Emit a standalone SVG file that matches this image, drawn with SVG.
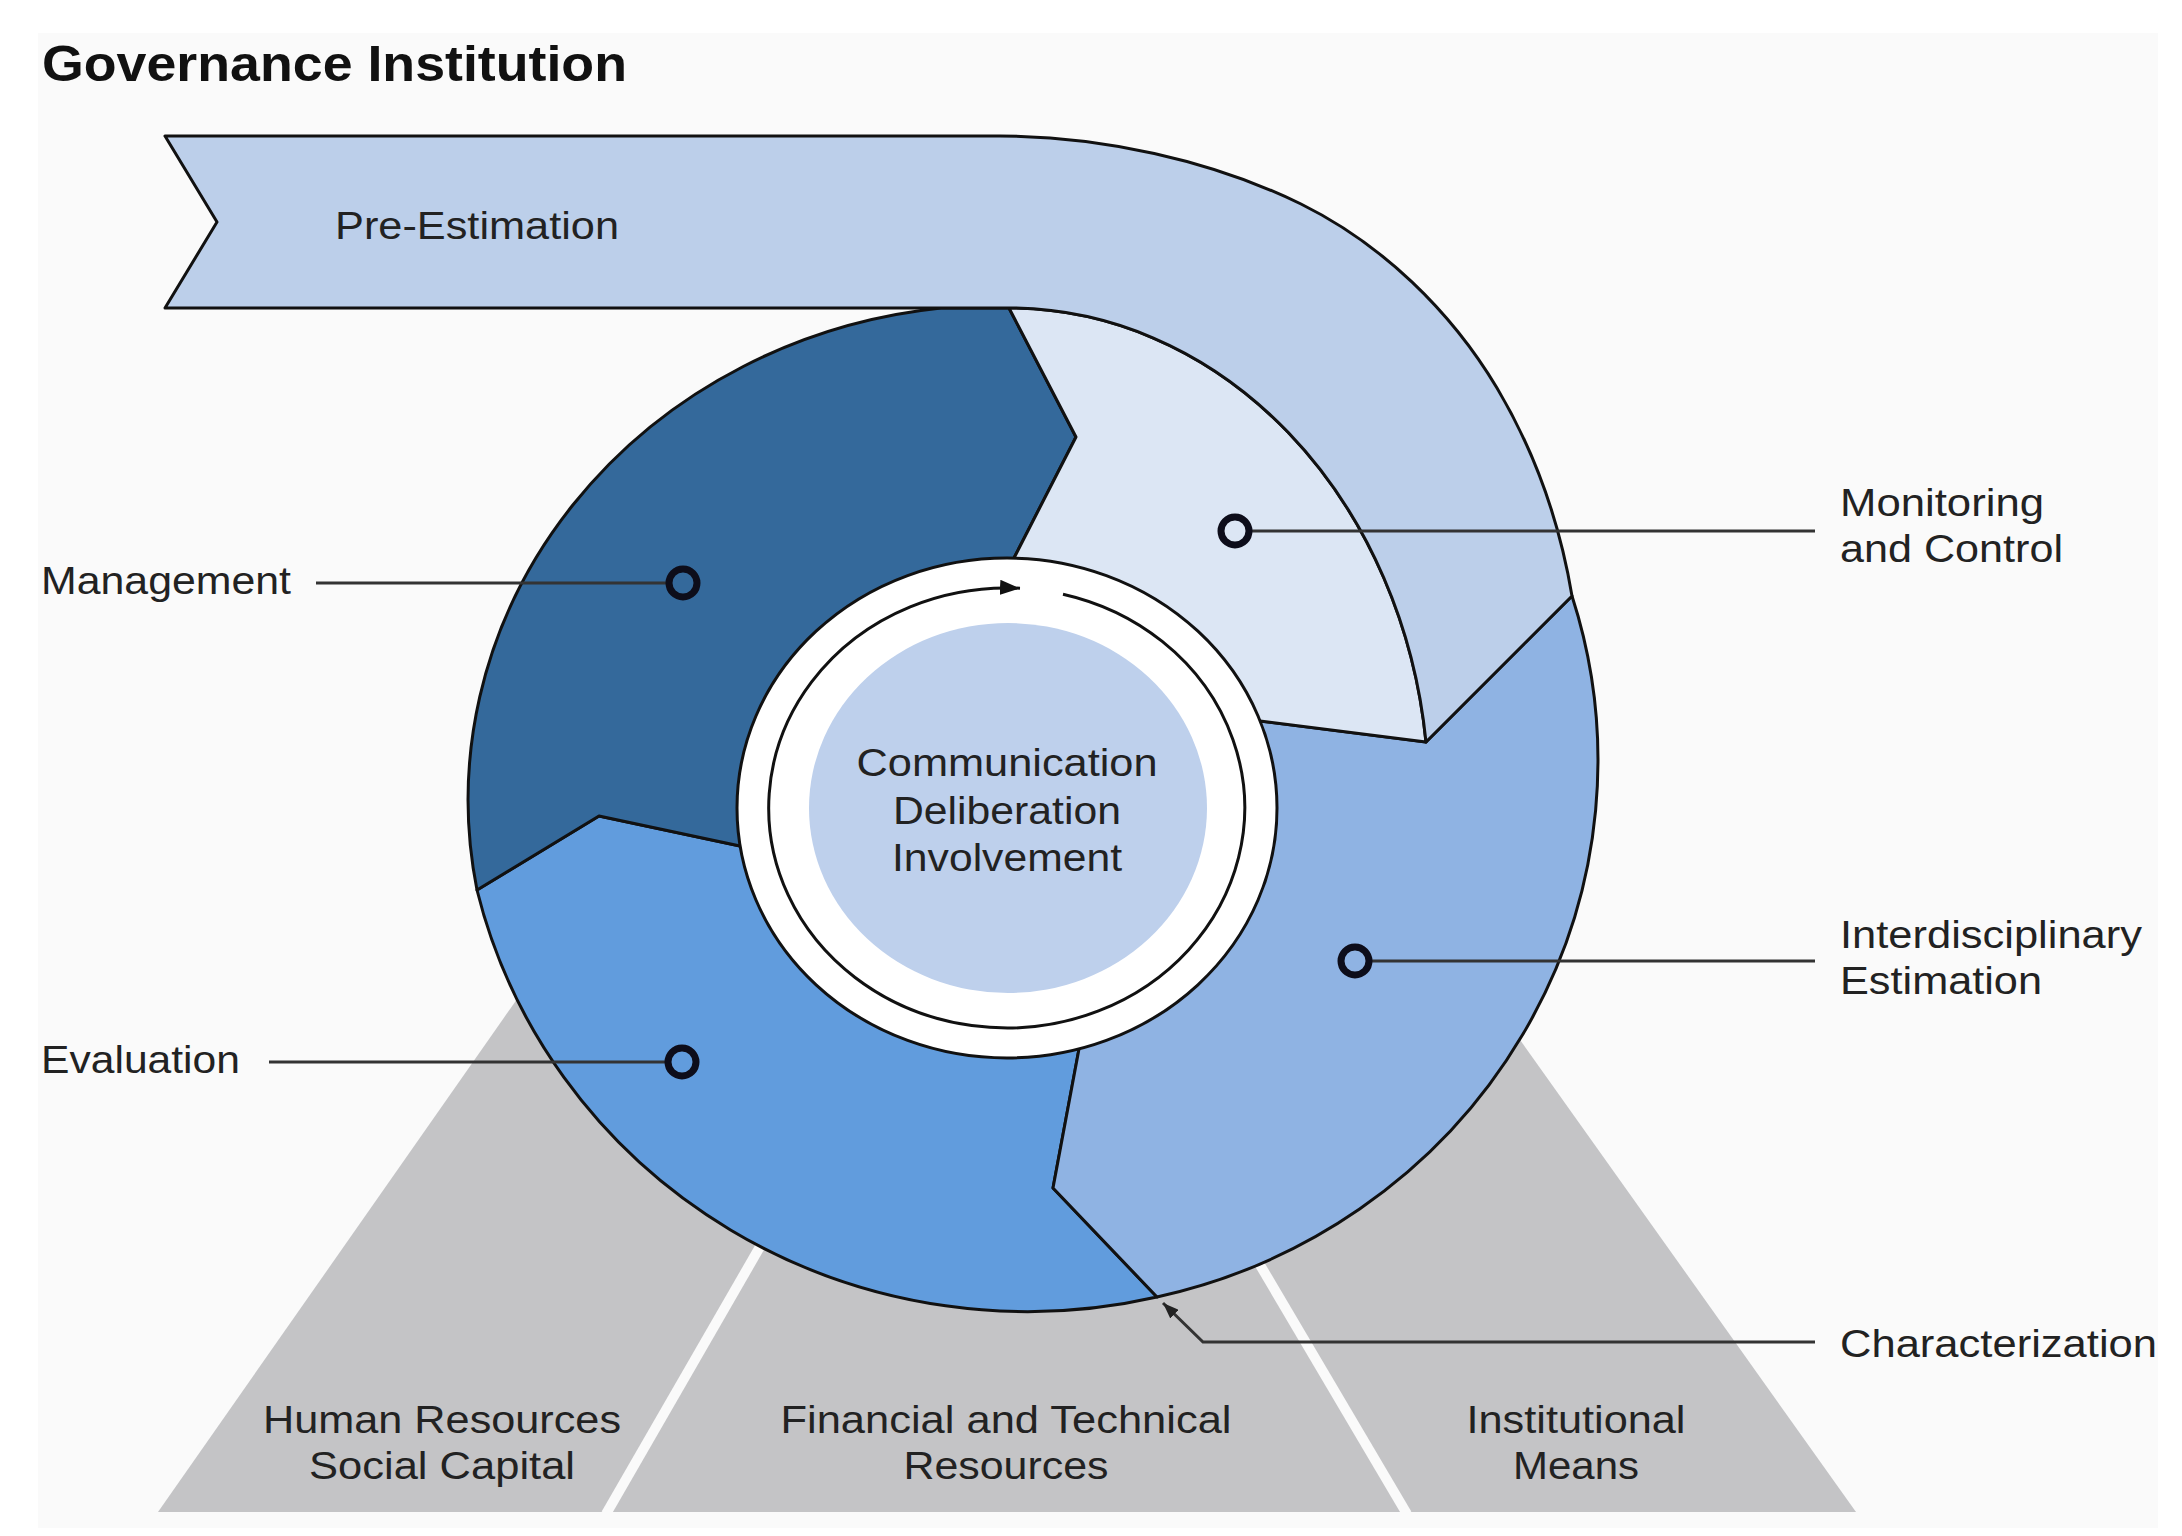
<svg xmlns="http://www.w3.org/2000/svg" width="2182" height="1536" viewBox="0 0 2182 1536">
<style>
.lbl{font-family:"Liberation Sans",Arial,sans-serif;font-size:38px;fill:#222}
.ttl{font-family:"Liberation Sans",Arial,sans-serif;font-size:50px;font-weight:bold;fill:#111}
.mid{text-anchor:middle}
.seg{stroke:#111;stroke-width:3;stroke-linejoin:round}
.lead{stroke:#333;stroke-width:3;fill:none}
.dot{fill:none;stroke:#0d0d1a;stroke-width:7}
.gap{stroke:#fafafa;stroke-width:10;fill:none}
</style>
<defs>
<marker id="ah" viewBox="0 0 20 15" refX="20" refY="7.5" markerWidth="20" markerHeight="15" markerUnits="userSpaceOnUse" orient="auto">
<path d="M0,0 L20,7.5 L0,15 Z" fill="#111"/>
</marker>
<marker id="ahs" viewBox="0 0 16 12" refX="16" refY="6" markerWidth="16" markerHeight="12" markerUnits="userSpaceOnUse" orient="auto">
<path d="M0,0 L16,6 L0,12 Z" fill="#222"/>
</marker>
</defs>
<rect x="0" y="0" width="2182" height="1536" fill="#ffffff"/>
<rect x="38" y="33" width="2120" height="1495" fill="#fafafa"/>

<g id="title">
<text class="ttl" x="42" y="81" textLength="585" lengthAdjust="spacingAndGlyphs">Governance Institution</text>
</g>

<g id="base-resources">
<polygon points="158,1512 1000,309 1856,1512" fill="#c4c4c6"/>
<line class="gap" x1="810" y1="1160" x2="606" y2="1514"/>
<line class="gap" x1="1204" y1="1170" x2="1407" y2="1514"/>
</g>

<g id="segment-evaluation">
<path class="seg" fill="#619cdd" d="M 1157 1297 L 1053 1188 L 1079 1049 L 1007 808 L 740 846 L 599 816 L 477 890 A 566 550 0 0 0 1157 1297 Z"/>
</g>
<g id="segment-interdisciplinary-estimation">
<path class="seg" fill="#8fb3e3" d="M 1572 596 L 1426 742 L 1260 721 L 1007 808 L 1079 1049 L 1053 1188 L 1157 1297 A 566 550 0 0 0 1572 596 Z"/>
</g>
<g id="segment-management">
<path class="seg" fill="#34699b" d="M 1009 308 L 1076 437 L 1014 558 L 1007 808 L 740 846 L 599 816 L 477 890 A 532 495 0 0 1 941 308 Z"/>
</g>
<g id="segment-monitoring-control">
<path class="seg" fill="#dce6f4" d="M 1009 308 L 1076 437 L 1014 558 L 1007 808 L 1260 721 L 1426 742 A 420 491 0 0 0 1009 308 Z"/>
</g>

<g id="banner-pre-estimation">
<path class="seg" fill="#bccfea" d="M 165 136 L 1000 136 C 1100 136 1211 160 1301 204 C 1382 244 1451 311 1497 388 C 1535 452 1560 524 1572 596 L 1426 742 A 420 491 0 0 0 1009 308 L 165 308 L 217 222 Z"/>
<text class="lbl" x="335" y="239" textLength="284" lengthAdjust="spacingAndGlyphs">Pre-Estimation</text>
</g>

<g id="center-hub">
<ellipse cx="1007" cy="808" rx="270" ry="250" fill="#ffffff" stroke="#111" stroke-width="3"/>
<path d="M 1063 594.2 A 238 220 0 1 1 1020 588.3" fill="none" stroke="#111" stroke-width="3" marker-end="url(#ah)"/>
<ellipse cx="1008" cy="808" rx="199" ry="185" fill="#bed0ec"/>
<text class="lbl mid" x="1007" y="776" textLength="301" lengthAdjust="spacingAndGlyphs">Communication</text>
<text class="lbl mid" x="1007" y="824" textLength="228" lengthAdjust="spacingAndGlyphs">Deliberation</text>
<text class="lbl mid" x="1007" y="871" textLength="230" lengthAdjust="spacingAndGlyphs">Involvement</text>
</g>

<g id="resource-labels">
<text class="lbl mid" x="442" y="1433" textLength="358" lengthAdjust="spacingAndGlyphs">Human Resources</text>
<text class="lbl mid" x="442" y="1479" textLength="266" lengthAdjust="spacingAndGlyphs">Social Capital</text>
<text class="lbl mid" x="1006" y="1433" textLength="451" lengthAdjust="spacingAndGlyphs">Financial and Technical</text>
<text class="lbl mid" x="1006" y="1479" textLength="205" lengthAdjust="spacingAndGlyphs">Resources</text>
<text class="lbl mid" x="1576" y="1433" textLength="219" lengthAdjust="spacingAndGlyphs">Institutional</text>
<text class="lbl mid" x="1576" y="1479" textLength="126" lengthAdjust="spacingAndGlyphs">Means</text>
</g>

<g id="label-management">
<text class="lbl" x="41" y="594" textLength="250" lengthAdjust="spacingAndGlyphs">Management</text>
</g>
<g id="label-evaluation">
<text class="lbl" x="41" y="1073" textLength="199" lengthAdjust="spacingAndGlyphs">Evaluation</text>
</g>
<g id="label-monitoring">
<text class="lbl" x="1840" y="516" textLength="204" lengthAdjust="spacingAndGlyphs">Monitoring</text>
<text class="lbl" x="1840" y="562" textLength="223" lengthAdjust="spacingAndGlyphs">and Control</text>
</g>
<g id="label-interdisciplinary">
<text class="lbl" x="1840" y="948" textLength="302" lengthAdjust="spacingAndGlyphs">Interdisciplinary</text>
<text class="lbl" x="1840" y="994" textLength="202" lengthAdjust="spacingAndGlyphs">Estimation</text>
</g>
<g id="label-characterization">
<text class="lbl" x="1840" y="1357" textLength="317" lengthAdjust="spacingAndGlyphs">Characterization</text>
</g>

<g id="connectors">
<line class="lead" x1="316" y1="583" x2="669" y2="583"/>
<circle class="dot" cx="683" cy="583" r="14"/>
<line class="lead" x1="269" y1="1062" x2="668" y2="1062"/>
<circle class="dot" cx="682" cy="1062" r="14"/>
<line class="lead" x1="1249" y1="531" x2="1815" y2="531"/>
<circle class="dot" cx="1235" cy="531" r="14"/>
<line class="lead" x1="1369" y1="961" x2="1815" y2="961"/>
<circle class="dot" cx="1355" cy="961" r="14"/>
<path class="lead" d="M 1815 1342 L 1203 1342 L 1163 1303" marker-end="url(#ahs)"/>
</g>
</svg>
